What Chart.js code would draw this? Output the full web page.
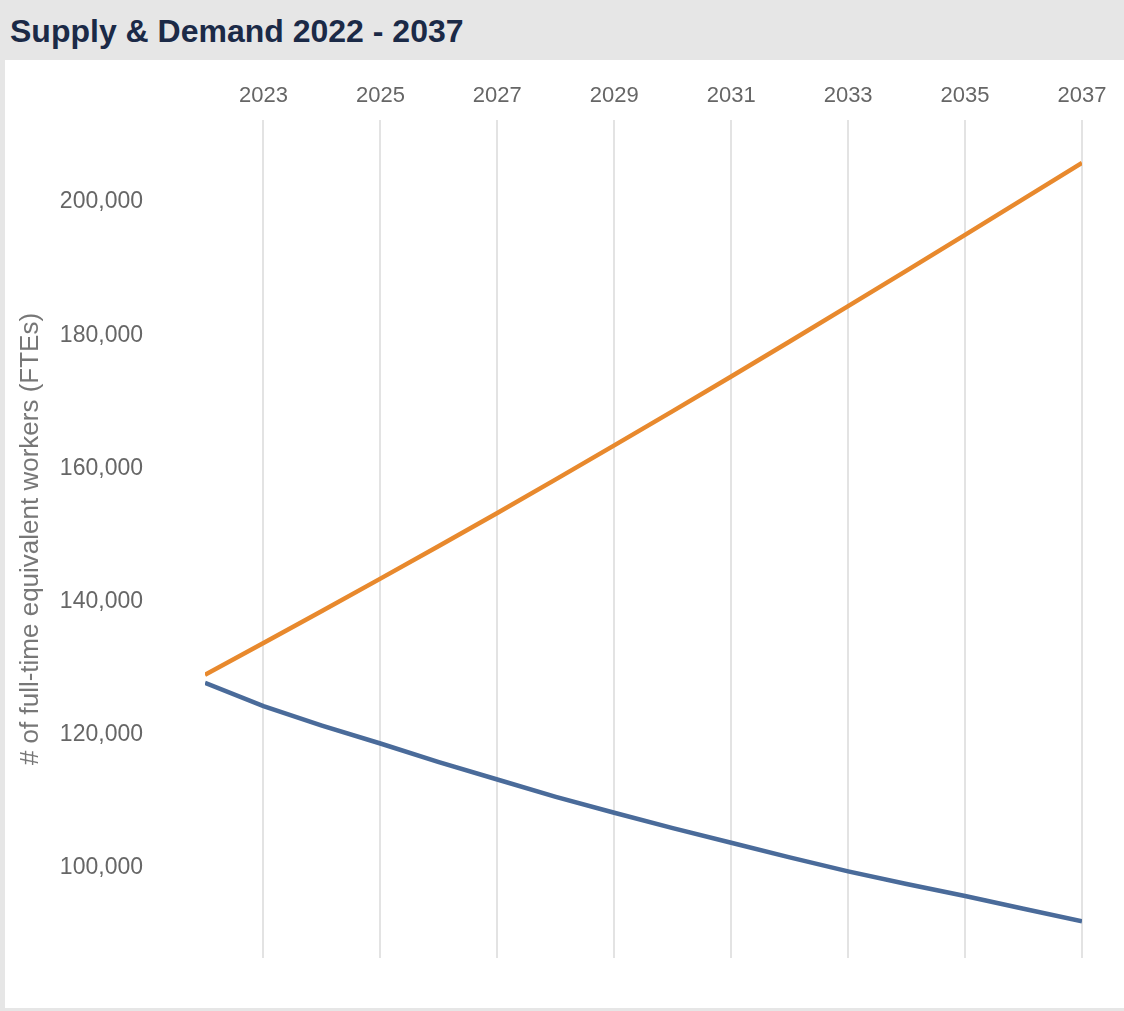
<!DOCTYPE html>
<html>
<head>
<meta charset="utf-8">
<title>Supply &amp; Demand 2022 - 2037</title>
<script src="https://cdn.jsdelivr.net/npm/chart.js@4.4.0/dist/chart.umd.min.js"></script>
<style>
    html, body { margin: 0; padding: 0; }
    body {
        width: 1124px;
        height: 1011px;
        background: #e6e6e6;
        position: relative;
        overflow: hidden;
        font-family: "Liberation Sans", Arial, sans-serif;
    }
    #header {
        position: absolute;
        left: 10px;
        top: 15px;
        font-size: 32px;
        line-height: 32px;
        font-weight: bold;
        color: #1b2a47;
        white-space: nowrap;
    }
    #panel {
        position: absolute;
        left: 5px;
        top: 60px;
        width: 1119px;
        height: 948px;
        background: #fff;
    }
    #chart { display: block; }
</style>
</head>
<body>
<div id="header">Supply &amp; Demand 2022 - 2037</div>
<div id="panel">
    <canvas id="chart" width="1119" height="948"></canvas>
</div>

<script>
// Chart data
const years = [2022, 2023, 2024, 2025, 2026, 2027, 2028, 2029,
               2030, 2031, 2032, 2033, 2034, 2035, 2036, 2037];
const demand = [129000, 133800, 138600, 143450, 148350, 153300, 158350, 163450,
                168600, 173800, 179050, 184350, 189700, 195050, 200450, 205850];
const supply = [127800, 124300, 121400, 118700, 115900, 113300, 110700, 108300,
                106000, 103800, 101600, 99500, 97600, 95800, 93900, 92000];
const xTicks = [2023, 2025, 2027, 2029, 2031, 2033, 2035, 2037];
const yTicks = [100000, 120000, 140000, 160000, 180000, 200000];
const yTitle = '# of full-time equivalent workers (FTEs)';

Chart.defaults.font.family = '"Liberation Sans", Arial, sans-serif';

function toPoints(values) {
    return years.map((yr, i) => ({ x: yr, y: values[i] }));
}

const ctx = document.getElementById('chart');

new Chart(ctx, {
    type: 'line',
    data: {
        datasets: [
            {
                label: 'Demand',
                data: toPoints(demand),
                borderColor: '#e8892d',
                borderWidth: 4.5,
                pointRadius: 0,
                tension: 0,
                fill: false
            },
            {
                label: 'Supply',
                data: toPoints(supply),
                borderColor: '#4a6b9a',
                borderWidth: 4.5,
                pointRadius: 0,
                tension: 0,
                fill: false
            }
        ]
    },
    options: {
        responsive: false,
        animation: false,
        layout: {
            padding: { top: 0, left: 0, right: 42, bottom: 50 }
        },
        plugins: {
            legend: { display: false },
            tooltip: { enabled: false }
        },
        scales: {
            x: {
                type: 'linear',
                position: 'top',
                min: 2022,
                max: 2037,
                afterBuildTicks: axis => {
                    axis.ticks = xTicks.map(v => ({ value: v }));
                },
                afterFit: axis => {
                    axis.height = 60;
                },
                grid: {
                    color: '#e3e3e3',
                    lineWidth: 2,
                    drawTicks: false
                },
                border: { display: false },
                ticks: {
                    color: '#666',
                    font: { size: 22 },
                    padding: 11,
                    maxRotation: 0,
                    callback: v => String(v)
                }
            },
            y: {
                min: 86500,
                max: 212300,
                afterBuildTicks: axis => {
                    axis.ticks = yTicks.map(v => ({ value: v }));
                },
                afterFit: axis => {
                    axis.width = 200;
                },
                // tick marks are hidden; their length only spaces the labels
                grid: { display: false, drawTicks: true, tickLength: 62 },
                border: { display: false },
                ticks: {
                    color: '#666',
                    font: { size: 23 },
                    padding: 0,
                    callback: v => v.toLocaleString('en-US')
                },
                title: {
                    display: true,
                    text: yTitle,
                    color: '#777',
                    font: { size: 26 },
                    padding: { top: 10, bottom: 0 }
                }
            }
        }
    }
});
</script>
</body>
</html>
